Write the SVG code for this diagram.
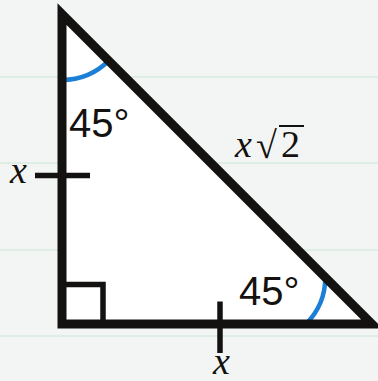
<svg xmlns="http://www.w3.org/2000/svg" width="378" height="381" viewBox="0 0 378 381">
<style>
.rule{stroke:#d9ebe1;stroke-width:1.5}
.edge{fill:none;stroke:#141210;stroke-width:9;stroke-linejoin:miter;stroke-miterlimit:10}
.tick{stroke:#141210;stroke-width:5.5;fill:none}
.arc{fill:none;stroke:#1b7fd6;stroke-width:4.5}
.deg{font-family:"Liberation Sans",Arial,sans-serif;font-size:40px;fill:#141210}
.var{font-family:"Liberation Serif","Times New Roman",serif;font-style:italic;font-size:38px;fill:#141210}
.num{font-family:"Liberation Serif","Times New Roman",serif;font-size:38px;fill:#141210}
</style>
<rect width="378" height="381" fill="#f3f5f4"/>
<g id="ruled-lines">
<line class="rule" x1="0" y1="77" x2="378" y2="77"/>
<line class="rule" x1="0" y1="163" x2="378" y2="163"/>
<line class="rule" x1="0" y1="250" x2="378" y2="250"/>
<line class="rule" x1="0" y1="336" x2="378" y2="336"/>
</g>
<g id="triangle">
<polygon points="62,14 62,324 372,324" fill="#ffffff"/>
<path class="arc" d="M62,80 A66,66 0 0 0 108.7,60.7"/>
<path class="arc" d="M306,324 A66,66 0 0 0 325.3,277.3"/>
<polyline class="tick" points="62,284.5 103,284.5 103,324"/>
<polygon class="edge" points="62,14 62,324 372,324"/>
</g>
<g id="connectors">
<line class="tick" x1="35" y1="175.5" x2="90" y2="175.5"/>
<line class="tick" x1="220" y1="301.5" x2="220" y2="353"/>
</g>
<g id="labels">
<text class="deg" x="69" y="137">45°</text>
<text class="deg" x="239" y="305">45°</text>
<text class="var" x="10" y="183">x</text>
<text class="var" x="213" y="374">x</text>
<text class="var" x="235" y="157">x</text>
<text class="num" x="256" y="158" font-size="42">√</text>
<line x1="279" y1="126" x2="304" y2="126" stroke="#141210" stroke-width="2"/>
<text class="num" x="281" y="157">2</text>
</g>
</svg>
